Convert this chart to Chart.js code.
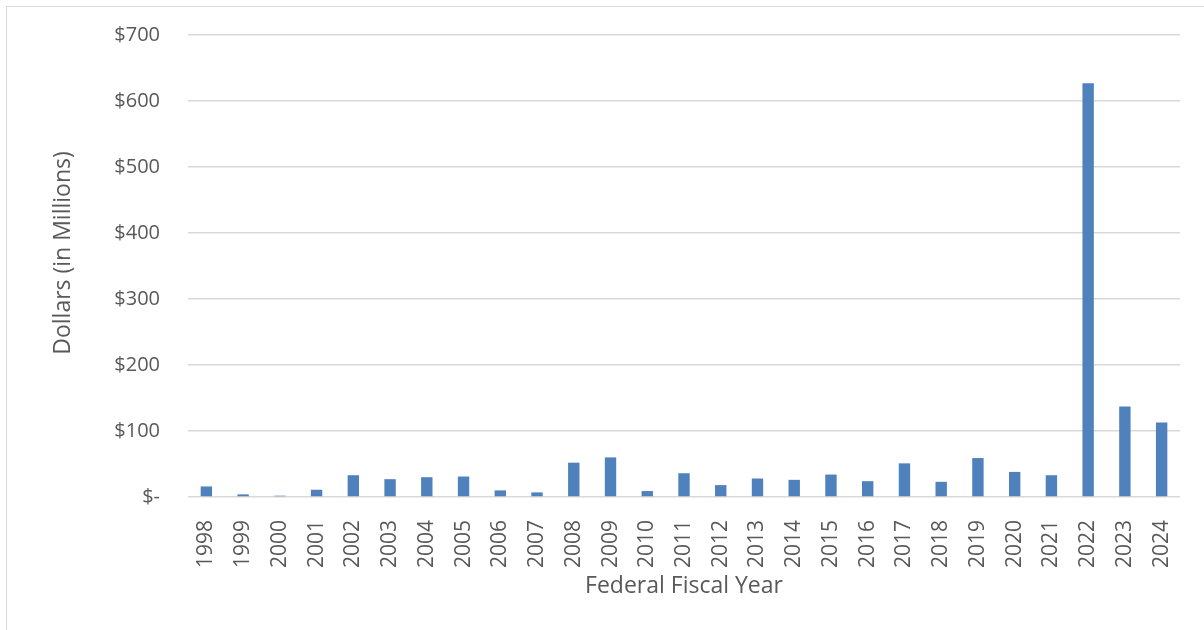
<!DOCTYPE html>
<html>
<head>
<meta charset="utf-8">
<script src="https://cdn.jsdelivr.net/npm/chart.js@4"></script>
<style>
  html, body { margin: 0; padding: 0; background: #fff; overflow: hidden; }
  #frame { position: absolute; left: 6px; top: 6px; width: 1300px; height: 700px; border: 1px solid #d9d9d9; }
  #wrap { position: absolute; left: 0; top: 0; width: 1204px; height: 630px; }
</style>
</head>
<body>
<div id="frame"></div>
<div id="wrap"><canvas id="c" width="1204" height="630"></canvas></div>
<script>
const years = ["1998","1999","2000","2001","2002","2003","2004","2005","2006","2007","2008","2009","2010","2011","2012","2013","2014","2015","2016","2017","2018","2019","2020","2021","2022","2023","2024"];
const dollarsMillions = [16, 4, 2, 11, 33, 27, 30, 31, 10, 7, 52, 60, 9, 36, 18, 28, 26, 34, 24, 51, 23, 59, 38, 33, 627, 137, 113];
const yTicks = [0, 100, 200, 300, 400, 500, 600, 700];
const xTitle = "Federal Fiscal Year";
const yTitle = "Dollars (in Millions)";

const FONT = "'Open Sans', 'Noto Sans', sans-serif";
const TXT = "#595959";

const yTitlePlugin = {
  id: 'yTitle',
  afterDraw(chart) {
    const ctx = chart.ctx;
    ctx.save();
    ctx.font = "23px " + FONT;
    ctx.fillStyle = TXT;
    ctx.textAlign = 'center';
    ctx.textBaseline = 'middle';
    ctx.translate(63, 253);
    ctx.rotate(-Math.PI / 2);
    ctx.fillText(yTitle, 0, 0);
    ctx.restore();
  }
};

new Chart(document.getElementById('c'), {
  type: 'bar',
  data: {
    labels: years,
    datasets: [{
      data: dollarsMillions,
      backgroundColor: '#4f81bd',
      borderWidth: 0,
      categoryPercentage: 1,
      barPercentage: 0.31
    }]
  },
  plugins: [yTitlePlugin],
  options: {
    responsive: false,
    animation: false,
    layout: { padding: { left: 50, right: 24, top: 35, bottom: 0 } },
    plugins: { legend: { display: false }, tooltip: { enabled: false } },
    scales: {
      x: {
        grid: { display: false },
        border: { display: false },
        ticks: {
          color: TXT, font: { family: FONT, size: 21 },
          minRotation: 90, maxRotation: 90, padding: 15, autoSkip: false
        },
        title: { display: true, text: xTitle, color: TXT, font: { family: FONT, size: 23 }, padding: { top: 0, bottom: 30 } },
        afterFit: (s) => { s.height = 133; }
      },
      y: {
        min: 0, max: 700,
        afterBuildTicks: (s) => { s.ticks = yTicks.map(v => ({ value: v })); },
        grid: { color: '#d9d9d9', lineWidth: 1.5, drawTicks: true, tickLength: 22, tickColor: 'rgba(0,0,0,0)' },
        border: { display: false },
        ticks: {
          color: TXT, font: { family: FONT, size: 20 }, padding: 6,
          callback: (v) => v === 0 ? '$-' : '$' + v
        },
        afterFit: (s) => { s.width = 138; }
      }
    }
  }
});
</script>
</body>
</html>
